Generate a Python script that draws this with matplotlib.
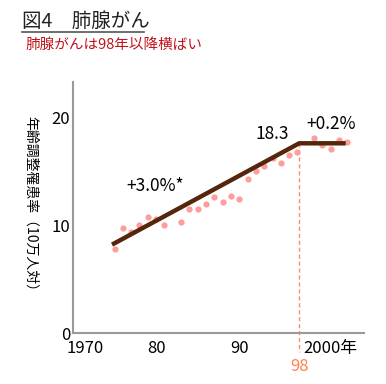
import matplotlib.pyplot as plt
import matplotlib.transforms as mtransforms

plt.rcParams['font.family'] = ['Noto Sans CJK JP', 'DejaVu Sans']

# observed rates (dots), per 100,000
years = [1975, 1976, 1977, 1978, 1979, 1980, 1981, 1983, 1984, 1985, 1986, 1987,
         1988, 1989, 1990, 1991, 1992, 1993, 1994, 1995, 1996, 1997, 1999, 2000,
         2001, 2002, 2003]
rates = [7.8, 9.7, 9.4, 10.0, 10.8, 10.6, 10.0, 10.3, 11.5, 11.5, 12.0, 12.65,
         12.2, 12.7, 12.4, 14.3, 15.0, 15.5, 16.25, 15.8, 16.5, 16.8, 18.05, 17.4,
         17.1, 17.95, 17.7]

# joinpoint trend
trend_x = [1974.7, 1997.2, 2002.8]
trend_y = [8.2, 17.6, 17.6]

xticks = [1970, 1980, 1990, 2000]
xticklabels = ["1970", "80", "90", "2000年"]
yticks = [0, 10, 20]

fig = plt.figure(figsize=(3.86, 3.84), dpi=100)
ax = fig.add_axes([0.189, 0.1328, 0.754, 0.654])

ax.plot(years, rates, 'o', color="#ff9c9c", markersize=4.5, markeredgewidth=0, zorder=2)
ax.plot(trend_x, trend_y, color="#55260a", linewidth=3.2, solid_capstyle='butt', zorder=3)

# dashed line down to the break year
ax.plot([trend_x[1], trend_x[1]], [trend_y[1], -1.8], color="#ff8c6e",
        linestyle=(0, (3, 2)), linewidth=1.0, clip_on=False, zorder=1)
ax.text(trend_x[1], -2.3, "98", color="#ff7f50", fontsize=12, ha='center', va='top')

ax.text(1979.9, 13.6, "+3.0%*", fontsize=12.5, ha='center', va='center')
ax.text(1994.0, 18.5, "18.3", fontsize=12.5, ha='center', va='center')
ax.text(2001.0, 19.4, "+0.2%", fontsize=12.5, ha='center', va='center')

ax.set_xlim(1970, 2005)
ax.set_ylim(0, 23.3)
ax.set_xticks(xticks)
ax.set_xticklabels(xticklabels, fontsize=12)
ax.set_yticks(yticks)
ax.set_yticklabels([str(v) for v in yticks], fontsize=12)
ax.tick_params(axis='y', length=0, pad=2)
ax.tick_params(axis='x', length=0, pad=5)

for lab, dx in zip(ax.get_xticklabels(), [12, 0, 0, 8]):
    lab.set_transform(lab.get_transform() + mtransforms.ScaledTranslation(dx / 100, 0, fig.dpi_scale_trans))

for s in ['top', 'right']:
    ax.spines[s].set_visible(False)
for s in ['left', 'bottom']:
    ax.spines[s].set_color("#9a9a9a")
    ax.spines[s].set_linewidth(1.5)

ax.set_ylabel("年齢調整罹患率（10万人対）", fontsize=10, rotation=-90,
              va='center', labelpad=0)
ax.yaxis.set_label_coords(-0.145, 0.5)

fig.text(0.058, 0.945, "図4　肺腺がん", fontsize=14, color="#222222", va='center')
fig.add_artist(plt.Line2D([0.058, 0.372], [0.916, 0.916], color="#555555", linewidth=1.2))
fig.text(0.065, 0.883, "肺腺がんは98年以降横ばい", fontsize=10.5, color="#c0141c", va='center')

fig.savefig("out.png", dpi=100)
